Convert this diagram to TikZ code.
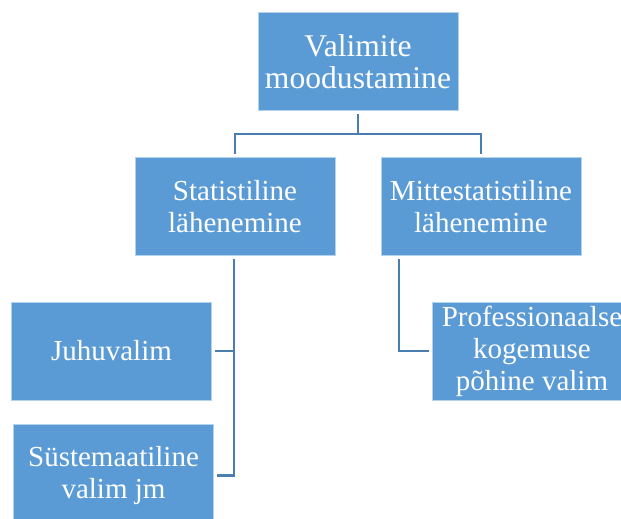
\documentclass[tikz,border=0pt]{standalone}
\usepackage{fontspec}
\setmainfont{Liberation Serif}
\definecolor{boxblue}{HTML}{5B9BD5}
\definecolor{linkblue}{HTML}{4A7EB0}
\tikzset{every picture/.style={line width=0.75pt}}
\tikzset{
  levelbox/.style={rectangle, fill=boxblue, draw=white!55!boxblue, line width=0.6pt,
    minimum width=150pt, minimum height=73.5pt, inner sep=2pt, align=center,
    text=white, font=\fontsize{21.75}{24}\selectfont},
  rootbox/.style={levelbox, font=\fontsize{23.7}{24}\selectfont},
  link/.style={draw=linkblue, line width=2pt, shorten <=2.25pt, shorten >=2.25pt}
}

\begin{document}
\begin{tikzpicture}[x=0.75pt,y=0.75pt,yscale=-1,xscale=1]
	\useasboundingbox (0,0) rectangle (621,518);
	
	%Shape: Rectangle [id:top]
	\node [rootbox] (valim) at (358,61.5) {Valimite\\moodustamine};
	%Shape: Rectangle [id:stat]
	\node [levelbox] (stat) at (235,206.5) {Statistiline\\lähenemine};
	%Shape: Rectangle [id:mitte]
	\node [levelbox] (mitte) at (481,206.5) {Mittestatistiline\\lähenemine};
	%Shape: Rectangle [id:juhu]
	\node [levelbox] (juhu) at (111.5,351) {Juhuvalim};
	%Shape: Rectangle [id:syst]
	\node [levelbox, minimum height=77.25pt] (syst) at (113.5,475.5) {Süstemaatiline\\valim jm};
	%Shape: Rectangle [id:prof]
	\node [levelbox] (prof) at (532,351) {Professionaalse\\kogemuse\\põhine valim};
	
	%Straight Lines [id:top-stat]
	\draw [link]    (valim.south) -- ++(0,23) -| (stat.north) ;
	%Straight Lines [id:top-mitte]
	\draw [link]    (valim.south) -- ++(0,23) -| (mitte.north) ;
	%Straight Lines [id:stat-juhu]
	\draw [link]    ([xshift=-0.75pt]stat.south) |- (juhu.east) ;
	%Straight Lines [id:stat-syst]
	\draw [link]    ([xshift=-0.75pt]stat.south) |- (syst.east) ;
	%Straight Lines [id:mitte-prof]
	\draw [link]    ([xshift=-61.5pt]mitte.south) |- (prof.west) ;
	
\end{tikzpicture}
\end{document}
